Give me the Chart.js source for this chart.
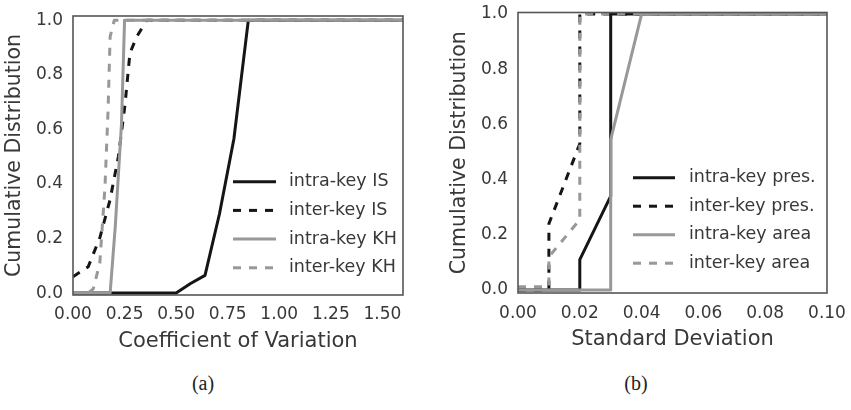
<!DOCTYPE html>
<html>
<head>
<meta charset="utf-8">
<script src="https://cdn.jsdelivr.net/npm/chart.js"></script>
<style>
  html, body { margin: 0; padding: 0; background: #fff; }
  #wrap { position: relative; width: 851px; height: 410px; overflow: hidden; }
  canvas { position: absolute; top: 0; }
  #chartA { left: 0; }
  #chartB { left: 425px; }
  .cap {
    position: absolute; top: 371px; width: 60px; margin-left: -30px;
    text-align: center; font: 20px/24px "Liberation Serif", serif; color: #222;
  }
</style>
</head>
<body>
<div id="wrap">
  <canvas id="chartA" width="430" height="360"></canvas>
  <canvas id="chartB" width="426" height="360"></canvas>
  <div class="cap" style="left:203px">(a)</div>
  <div class="cap" style="left:636px">(b)</div>
</div>
<script>
// ---- shared axis ticks ----
const cdfTicks = [0, 0.2, 0.4, 0.6, 0.8, 1.0];

// ---- (a) coefficient of variation ----
const cvTicks = [0, 0.25, 0.5, 0.75, 1.0, 1.25, 1.5];
const cvLabels = ['intra-key IS', 'inter-key IS', 'intra-key KH', 'inter-key KH'];
const cvIntraIsX = [0, 0.50, 0.57, 0.64, 0.71, 0.78, 0.85, 1.6];
const cvIntraIsY = [0, 0, 0.035, 0.065, 0.29, 0.565, 1.0, 1.0];
const cvInterIsX = [0, 0.074, 0.131, 0.179, 0.22, 0.252, 0.276, 0.309, 0.357, 1.6];
const cvInterIsY = [0.06, 0.097, 0.205, 0.34, 0.5, 0.69, 0.88, 0.94, 1.0, 1.0];
const cvIntraKhX = [0, 0.18, 0.205, 0.235, 0.25, 1.6];
const cvIntraKhY = [0, 0, 0.245, 0.62, 1.0, 1.0];
const cvInterKhX = [0, 0.072, 0.098, 0.13, 0.155, 0.17, 0.18, 0.2, 1.6];
const cvInterKhY = [0, 0, 0.015, 0.11, 0.39, 0.67, 0.94, 1.0, 1.0];

// ---- (b) standard deviation ----
const sdTicks = [0, 0.02, 0.04, 0.06, 0.08, 0.10];
const sdLabels = ['intra-key pres.', 'inter-key pres.', 'intra-key area', 'inter-key area'];
const sdIntraPresX = [0, 0.02, 0.02, 0.03, 0.03, 0.1];
const sdIntraPresY = [0, 0, 0.11, 0.34, 1.0, 1.0];
const sdInterPresX = [0, 0.01, 0.01, 0.02, 0.02, 0.1];
const sdInterPresY = [0, 0, 0.24, 0.53, 1.0, 1.0];
const sdIntraAreaX = [0, 0.03, 0.03, 0.04, 0.1];
const sdIntraAreaY = [0, 0, 0.545, 1.0, 1.0];
const sdInterAreaX = [0, 0.01, 0.01, 0.02, 0.02, 0.1];
const sdInterAreaY = [0.012, 0.012, 0.12, 0.255, 1.0, 1.0];

const BLACK = '#151515';
const GRAY = '#989898';
const TEXT = '#383838';
const FONT = '"DejaVu Sans", sans-serif';

function series(label, xs, ys, color, dashed, order) {
  return {
    label,
    data: xs.map((x, i) => ({ x, y: ys[i] })),
    borderColor: color,
    backgroundColor: color,
    borderWidth: 3,
    borderDash: dashed ? [8, 8] : [],
    borderCapStyle: 'butt',
    borderJoinStyle: 'round',
    pointRadius: 0,
    tension: 0,
    fill: false,
    order, // later series sit on top, like matplotlib
  };
}

// box round the plot area (seaborn white style)
const framePlugin = {
  id: 'frame',
  afterDatasetsDraw(chart) {
    const { ctx, chartArea: a } = chart;
    ctx.save();
    ctx.strokeStyle = '#555';
    ctx.lineWidth = 1.6;
    ctx.strokeRect(a.left, a.top, a.right - a.left, a.bottom - a.top);
    ctx.restore();
  },
};

// legend floating inside the plot, no frame
const insideLegend = {
  id: 'insideLegend',
  afterDraw(chart, args, o) {
    const { ctx } = chart;
    ctx.save();
    ctx.font = `${o.size}px ${FONT}`;
    ctx.textBaseline = 'middle';
    chart.data.datasets.forEach((ds, i) => {
      const y = o.y + i * o.step;
      ctx.strokeStyle = ds.borderColor;
      ctx.lineWidth = 3;
      ctx.setLineDash(ds.borderDash);
      ctx.beginPath();
      ctx.moveTo(o.x, y);
      ctx.lineTo(o.x + o.len, y);
      ctx.stroke();
      ctx.setLineDash([]);
      ctx.fillStyle = TEXT;
      ctx.fillText(ds.label, o.x + o.len + o.gap, y);
    });
    ctx.restore();
  },
};

function buildChart(id, opts) {
  const canvas = document.getElementById(id);
  const tickFont = { family: FONT, size: 17 };
  return new Chart(canvas, {
    type: 'line',
    data: { datasets: opts.datasets },
    options: {
      responsive: false,
      animation: false,
      events: [],
      layout: { padding: { left: 0, top: opts.area.top, right: canvas.width - opts.area.right, bottom: 0 } },
      plugins: {
        legend: { display: false },
        tooltip: { enabled: false },
        insideLegend: opts.legend,
      },
      scales: {
        x: {
          type: 'linear',
          min: opts.xMin,
          max: opts.xMax,
          afterBuildTicks: (s) => { s.ticks = opts.xTicks.map((v) => ({ value: v })); },
          afterFit: (s) => {
            s.height = canvas.height - opts.area.bottom;
            s.paddingLeft = 0; s.paddingRight = 0;
          },
          ticks: {
            font: tickFont, color: TEXT, padding: opts.xTickPad,
            maxRotation: 0, autoSkip: false,
            callback: (v) => Number(v).toFixed(2),
          },
          grid: { display: false, drawTicks: false },
          border: { display: false },
          title: {
            display: true, text: opts.xTitle, color: TEXT,
            font: { family: FONT, size: 21 },
            padding: { top: 0, bottom: opts.xTitlePad },
          },
        },
        y: {
          type: 'linear',
          min: opts.yMin,
          max: opts.yMax,
          afterBuildTicks: (s) => { s.ticks = cdfTicks.map((v) => ({ value: v })); },
          afterFit: (s) => {
            s.width = opts.area.left;
            s.paddingTop = 0; s.paddingBottom = 0;
          },
          ticks: {
            font: tickFont, color: TEXT, padding: 10,
            callback: (v) => Number(v).toFixed(1),
          },
          grid: { display: false, drawTicks: false },
          border: { display: false },
          title: {
            display: true, text: 'Cumulative Distribution', color: TEXT,
            font: { family: FONT, size: 20.5 },
            padding: { top: opts.yTitlePad, bottom: 0 },
          },
        },
      },
    },
    plugins: [framePlugin, insideLegend],
  });
}

buildChart('chartA', {
  datasets: [
    series(cvLabels[0], cvIntraIsX, cvIntraIsY, BLACK, false, 4),
    series(cvLabels[1], cvInterIsX, cvInterIsY, BLACK, true, 3),
    series(cvLabels[2], cvIntraKhX, cvIntraKhY, GRAY, false, 2),
    series(cvLabels[3], cvInterKhX, cvInterKhY, GRAY, true, 1),
  ],
  area: { left: 73, right: 403, top: 16, bottom: 295 },
  xMin: 0, xMax: 1.6, xTicks: cvTicks,
  yMin: -0.007, yMax: 1.016,
  xTitle: 'Coefficient of Variation',
  xTickPad: 9, xTitlePad: 6, yTitlePad: 2,
  legend: { x: 233, y: 181.7, step: 28.7, len: 43, gap: 13, size: 17.5 },
});

buildChart('chartB', {
  datasets: [
    series(sdLabels[0], sdIntraPresX, sdIntraPresY, BLACK, false, 4),
    series(sdLabels[1], sdInterPresX, sdInterPresY, BLACK, true, 3),
    series(sdLabels[2], sdIntraAreaX, sdIntraAreaY, GRAY, false, 2),
    series(sdLabels[3], sdInterAreaX, sdInterAreaY, GRAY, true, 1),
  ],
  area: { left: 93, right: 402, top: 12.5, bottom: 293 },
  xMin: 0, xMax: 0.1, xTicks: sdTicks,
  yMin: -0.011, yMax: 1.0055,
  xTitle: 'Standard Deviation',
  xTickPad: 10, xTitlePad: 8, yTitlePad: 22.5,
  legend: { x: 208, y: 177.7, step: 28.5, len: 42, gap: 14, size: 17.5 },
});
</script>
</body>
</html>
